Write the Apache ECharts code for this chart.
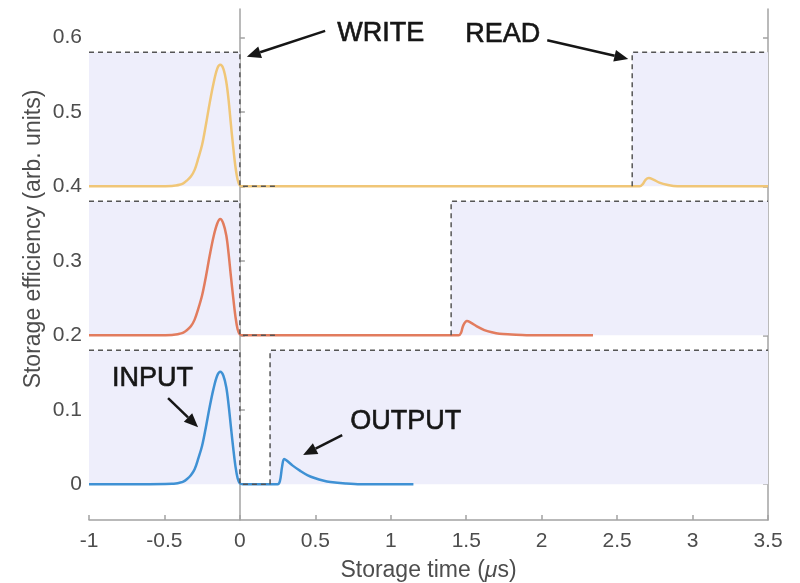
<!DOCTYPE html>
<html>
<head>
<meta charset="utf-8">
<script src="https://cdn.jsdelivr.net/npm/echarts@6/dist/echarts.min.js"></script>
<style>
  html, body { margin: 0; padding: 0; background: #fff; }
  #chart { width: 800px; height: 583px; }
</style>
</head>
<body>
<div id="chart"></div>
<script>
// input pulse, shared time grid (us)
const xIn = [-1, -0.6, -0.45, -0.425, -0.4, -0.375, -0.35, -0.325, -0.3, -0.275, -0.25, -0.225, -0.2, -0.175, -0.15, -0.13, -0.11, -0.09, -0.075, -0.06, -0.045, -0.03, -0.015, 0, 0.02]
const blueIn = [0, 0, 0.0005, 0.001, 0.002, 0.0035, 0.007, 0.012, 0.02, 0.035, 0.052, 0.077, 0.104, 0.128, 0.146, 0.151, 0.146, 0.13, 0.107, 0.078, 0.05, 0.025, 0.008, 0.001, 0]
const redIn = [0.2, 0.2, 0.2005, 0.201, 0.202, 0.2036, 0.207, 0.212, 0.221, 0.236, 0.254, 0.279, 0.307, 0.332, 0.35, 0.356, 0.35, 0.334, 0.31, 0.28, 0.252, 0.226, 0.208, 0.201, 0.2]
const yellowIn = [0.4, 0.4, 0.4005, 0.401, 0.402, 0.404, 0.408, 0.413, 0.422, 0.438, 0.456, 0.483, 0.512, 0.538, 0.558, 0.563, 0.558, 0.54, 0.516, 0.484, 0.454, 0.427, 0.409, 0.401, 0.4]

// retrieved pulses
const blueOutX = [0.25, 0.265, 0.28, 0.293, 0.31, 0.35, 0.4, 0.45, 0.5, 0.55, 0.6, 0.7, 0.8, 1.15]
const blueOut = [0, 0.004, 0.024, 0.034, 0.032, 0.025, 0.018, 0.012, 0.008, 0.005, 0.003, 0.001, 0, 0]
const redOutX = [1.45, 1.465, 1.48, 1.505, 1.53, 1.57, 1.62, 1.67, 1.72, 1.8, 1.9, 2.34]
const redOut = [0.2, 0.203, 0.213, 0.219, 0.217, 0.212, 0.207, 0.204, 0.202, 0.201, 0.2, 0.2]
const yellowOutX = [2.65, 2.67, 2.69, 2.71, 2.74, 2.78, 2.83, 2.9, 3.0, 3.5]
const yellowOut = [0.4, 0.403, 0.409, 0.411, 0.409, 0.405, 0.402, 0.4, 0.4, 0.4]

// control field windows: write ends at 0, read starts at readStart
const baseLevel = [0, 0.2, 0.4]
const fieldTop = [0.18, 0.38, 0.58]
const readStart = [0.2, 1.4, 2.6]
const writeEnd = 0

const yTicks = [0, 0.1, 0.2, 0.3, 0.4, 0.5, 0.6]

// annotations (data coords)
const labels = ['WRITE', 'READ', 'INPUT', 'OUTPUT']
const labelX = [0.645, 1.493, -0.847, 0.731]
const labelY = [0.605, 0.604, 0.142, 0.0846]
const arrowFrom = [[0.565, 0.6087], [2.037, 0.596], [-0.476, 0.1155], [0.678, 0.0659]]
const arrowTo = [[0.046, 0.574], [2.574, 0.571], [-0.277, 0.0766], [0.419, 0.0392]]

const colors = ['#3f91d4', '#e27c5e', '#f0c677']
const FONT = 'Liberation Sans, Arial, Helvetica, sans-serif'

function zip(xs, ys) {
  return xs.map((x, i) => [x, ys[i]])
}

const curves = [
  zip(xIn, blueIn).concat(zip(blueOutX, blueOut)),
  zip(xIn, redIn).concat(zip(redOutX, redOut)),
  zip(xIn, yellowIn).concat(zip(yellowOutX, yellowOut))
]

let series = []
for (let i = 0; i < 3; i++) {
  // shaded control field
  series.push({
    type: 'line',
    data: [],
    silent: true,
    markArea: {
      silent: true,
      itemStyle: { color: '#eeeefb' },
      data: [
        [{ xAxis: -1, yAxis: baseLevel[i] }, { xAxis: writeEnd, yAxis: fieldTop[i] }],
        [{ xAxis: readStart[i], yAxis: baseLevel[i] }, { xAxis: 3.5, yAxis: fieldTop[i] }]
      ]
    }
  })
}
for (let i = 0; i < 3; i++) {
  series.push({
    type: 'line',
    data: curves[i],
    showSymbol: false,
    smooth: 0.35,
    z: 3,
    lineStyle: { color: colors[i], width: 2.5 }
  })
}
const dashStyle = { color: '#555', width: 1.5, type: [5, 4] }
for (let i = 0; i < 3; i++) {
  series.push({
    type: 'line',
    data: [[-1, fieldTop[i]], [writeEnd, fieldTop[i]], [writeEnd, baseLevel[i]], [Math.min(readStart[i], 0.25), baseLevel[i]]],
    showSymbol: false,
    z: 4,
    lineStyle: dashStyle
  })
  series.push({
    type: 'line',
    data: [[readStart[i], baseLevel[i]], [readStart[i], fieldTop[i]], [3.5, fieldTop[i]]],
    showSymbol: false,
    z: 4,
    lineStyle: dashStyle
  })
}

const axisLineStyle = { color: '#a3a3a3', width: 1.5 }
const chart = echarts.init(document.getElementById('chart'))
chart.setOption({
  animation: false,
  backgroundColor: '#fff',
  grid: { left: 89, right: 32, top: 9, bottom: 63, outerBoundsMode: 'none', containLabel: false },
  xAxis: {
    type: 'value',
    min: -1,
    max: 3.5,
    interval: 0.5,
    splitLine: { show: false },
    axisLine: { onZero: false, lineStyle: axisLineStyle },
    axisTick: { inside: true, length: 5, lineStyle: axisLineStyle },
    axisLabel: { color: '#4d4d4d', fontSize: 21, fontFamily: FONT, margin: 11 },
    name: '{a|Storage time (}{b|μ}{a|s)}',
    nameLocation: 'middle',
    nameGap: 39,
    nameTextStyle: {
      rich: {
        a: { color: '#4d4d4d', fontSize: 23, fontFamily: FONT },
        b: { color: '#4d4d4d', fontSize: 23, fontFamily: FONT, fontStyle: 'italic' }
      }
    }
  },
  yAxis: [
    {
      type: 'value',
      min: -0.048,
      max: 0.638,
      splitLine: { show: false },
      axisLine: { show: true, lineStyle: axisLineStyle },
      axisTick: { inside: true, length: 5, customValues: yTicks, lineStyle: axisLineStyle },
      axisLabel: { color: '#4d4d4d', fontSize: 21, fontFamily: FONT, margin: 7, customValues: yTicks }
    },
    {
      type: 'value',
      position: 'right',
      min: -0.048,
      max: 0.638,
      splitLine: { show: false },
      axisLine: { show: true, lineStyle: axisLineStyle },
      axisTick: { inside: true, length: 5, customValues: yTicks, lineStyle: axisLineStyle },
      axisLabel: { show: false }
    }
  ],
  series: series
})

// annotations and y label
const graphics = []
const px = (p) => chart.convertToPixel({ xAxisIndex: 0, yAxisIndex: 0 }, p)
for (let i = 0; i < labels.length; i++) {
  const p = px([labelX[i], labelY[i]])
  graphics.push({
    type: 'text',
    x: p[0],
    y: p[1],
    z: 10,
    style: {
      text: labels[i],
      fill: '#161616',
      stroke: '#161616',
      lineWidth: 0.6,
      font: '27px ' + FONT,
      textAlign: 'left',
      textVerticalAlign: 'middle'
    }
  })
  const a = px(arrowFrom[i])
  const b = px(arrowTo[i])
  const dx = b[0] - a[0]
  const dy = b[1] - a[1]
  const len = Math.sqrt(dx * dx + dy * dy)
  const ux = dx / len
  const uy = dy / len
  const hl = 14
  const hw = 6
  const bx = b[0] - ux * hl
  const by = b[1] - uy * hl
  graphics.push({
    type: 'line',
    z: 10,
    shape: { x1: a[0], y1: a[1], x2: bx, y2: by },
    style: { stroke: '#161616', lineWidth: 2.5 }
  })
  graphics.push({
    type: 'polygon',
    z: 10,
    shape: { points: [[b[0], b[1]], [bx - uy * hw, by + ux * hw], [bx + uy * hw, by - ux * hw]] },
    style: { fill: '#161616' }
  })
}
graphics.push({
  type: 'text',
  x: 34,
  y: 239,
  rotation: Math.PI / 2,
  z: 10,
  style: {
    text: 'Storage efficiency (arb. units)',
    fill: '#4d4d4d',
    font: '23px ' + FONT,
    textAlign: 'center',
    textVerticalAlign: 'middle'
  }
})
chart.setOption({ graphic: graphics })
</script>
</body>
</html>
